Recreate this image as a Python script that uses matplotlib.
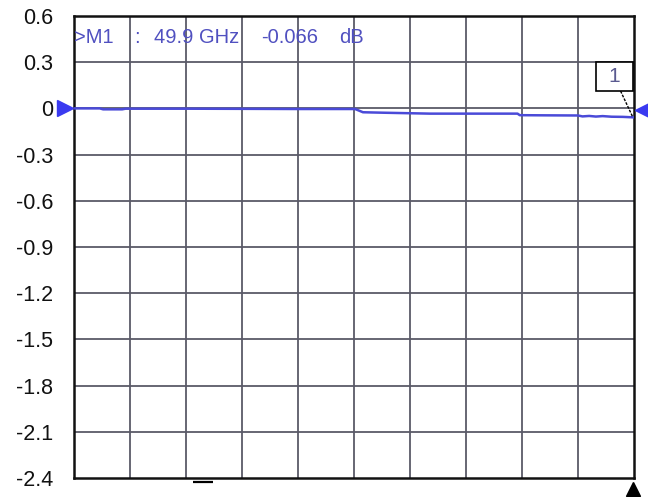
import matplotlib
matplotlib.use("Agg")
import matplotlib.pyplot as plt
from matplotlib.patches import Rectangle
import matplotlib.transforms as mtransforms

# ---- data ----
freq_ghz = [0.0, 2.3, 2.6, 4.3, 4.6, 10.0, 15.7, 20.2, 25.1, 25.8, 27.6, 29.0,
            31.8, 35.0, 39.6, 39.8, 42.0, 45.0, 45.4, 46.0, 46.6, 47.2, 48.0,
            49.0, 49.9]
s21_db = [0.0, 0.0, -0.006, -0.006, -0.002, -0.002, -0.003, -0.004, -0.004,
          -0.025, -0.028, -0.030, -0.034, -0.034, -0.034, -0.044, -0.045,
          -0.046, -0.052, -0.049, -0.053, -0.050, -0.054, -0.055, -0.058]
y_ticks = [0.6, 0.3, 0, -0.3, -0.6, -0.9, -1.2, -1.5, -1.8, -2.1, -2.4]
y_labels = ["0.6", "0.3", "0", "-0.3", "-0.6", "-0.9", "-1.2", "-1.5", "-1.8", "-2.1", "-2.4"]
x_grid = [0, 5, 10, 15, 20, 25, 30, 35, 40, 45, 50]
marker_text = [">M1", ":", "49.9 GHz", "-0.066", "dB"]
marker_label = "1"

plt.rcParams['font.family'] = ['Liberation Sans', 'DejaVu Sans']

fig = plt.figure(figsize=(6.48, 4.97), dpi=100)
ax = fig.add_axes([74/648, 19/497, 560/648, 462/497])
ax.set_xlim(0, 50)
ax.set_ylim(-2.4, 0.6)

grid_c = "#5a5a68"
for xv in x_grid[1:-1]:
    ax.axvline(xv, color=grid_c, lw=1.3, zorder=1)
for yv in y_ticks[1:-1]:
    ax.axhline(yv, color=grid_c, lw=1.3, zorder=1)

ax.set_xticks([])
ax.set_yticks(y_ticks)
ax.set_yticklabels(y_labels, fontsize=15.5, color="#111111")
ax.tick_params(axis='y', length=0, pad=15)
for s in ax.spines.values():
    s.set_color("#111111")
    s.set_linewidth(1.8)

trace_c = "#4a4ad8"
ax.plot(freq_ghz, s21_db, color=trace_c, lw=1.8, zorder=3)

# reference level markers
tl = mtransforms.offset_copy(ax.transData, fig=fig, x=-9, y=0, units='dots')
ax.plot([0], [0], marker='>', ms=11, color="#3a3af0", transform=tl, clip_on=False, zorder=5)
tr = mtransforms.offset_copy(ax.transData, fig=fig, x=8, y=-2, units='dots')
ax.plot([50], [0], marker='<', ms=10, color="#3a3af0", transform=tr, clip_on=False, zorder=5)

# bottom markers
tb = mtransforms.offset_copy(ax.transData, fig=fig, x=0, y=-11, units='dots')
ax.plot([49.9], [-2.4], marker='^', ms=10, color="black", transform=tb, clip_on=False, zorder=5)
td = mtransforms.offset_copy(ax.transData, fig=fig, x=0, y=-4, units='dots')
ax.plot([11.5], [-2.4], marker='_', ms=14, mew=1.6, color="black", transform=td, clip_on=False, zorder=5)

# marker readout
text_c = "#5050c0"
xs_px = [74, 134, 154, 261, 339]
for t, xp in zip(marker_text, xs_px):
    ax.text((xp - 74) / 560, 1 - (43 - 16) / 462, t, transform=ax.transAxes,
            fontsize=14.5, color=text_c, ha='left', va='baseline', zorder=6)

# marker box "1"
bx0, bx1 = 46.6, 49.9
by0, by1 = 0.113, 0.301
ax.plot([48.8, freq_ghz[-1]], [by0, s21_db[-1]], color="black", lw=1.0, ls=(0, (2, 1)), zorder=4, clip_on=False)
ax.add_patch(Rectangle((bx0, by0), bx1 - bx0, by1 - by0, facecolor="white",
                       edgecolor="black", lw=1.2, zorder=5, clip_on=False))
ax.text((bx0 + bx1) / 2, (by0 + by1) / 2, marker_label, fontsize=15, color="#5a5a90",
        ha='center', va='center', zorder=6)

fig.savefig("out.png", dpi=100)
